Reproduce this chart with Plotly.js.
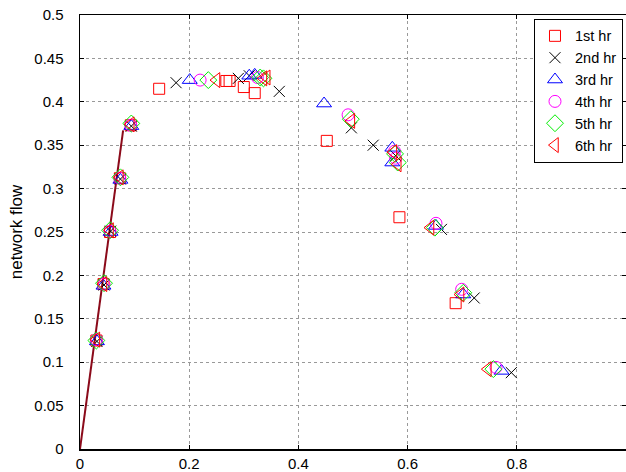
<!DOCTYPE html>
<html>
<head>
<meta charset="utf-8">
<script src="https://cdn.plot.ly/plotly-3.0.1.min.js"></script>
<style>html,body{margin:0;padding:0;background:#fff;}#chart{width:626px;height:472px;}</style>
</head>
<body>
<div id="chart"></div>
<script>
// Series names
const seriesNames = ["1st hr", "2nd hr", "3rd hr", "4th hr", "5th hr", "6th hr"];

// 1st hr (red squares)
const hr1X = [0.030, 0.043, 0.055, 0.073, 0.093, 0.145, 0.268, 0.274, 0.300, 0.320, 0.452, 0.585, 0.688];
const hr1Y = [0.125, 0.190, 0.250, 0.312, 0.373, 0.415, 0.424, 0.424, 0.417, 0.410, 0.355, 0.267, 0.168];

// 2nd hr (black x)
const hr2X = [0.031, 0.044, 0.056, 0.074, 0.094, 0.176, 0.290, 0.310, 0.365, 0.497, 0.537, 0.578, 0.662, 0.722, 0.790];
const hr2Y = [0.124, 0.189, 0.251, 0.311, 0.372, 0.422, 0.427, 0.430, 0.412, 0.370, 0.350, 0.338, 0.253, 0.174, 0.088];

// 3rd hr (blue triangles)
const hr3X = [0.031, 0.043, 0.056, 0.074, 0.094, 0.201, 0.310, 0.320, 0.447, 0.572, 0.572, 0.652, 0.702, 0.772];
const hr3Y = [0.124, 0.188, 0.250, 0.310, 0.372, 0.425, 0.430, 0.431, 0.398, 0.347, 0.330, 0.257, 0.178, 0.090];

// 4th hr (magenta circles)
const hr4X = [0.030, 0.044, 0.055, 0.073, 0.093, 0.220, 0.325, 0.491, 0.576, 0.578, 0.652, 0.699, 0.762];
const hr4Y = [0.126, 0.190, 0.251, 0.312, 0.373, 0.425, 0.428, 0.385, 0.343, 0.335, 0.260, 0.184, 0.094];

// 5th hr (green diamonds)
const hr5X = [0.030, 0.044, 0.055, 0.074, 0.094, 0.235, 0.330, 0.336, 0.496, 0.577, 0.582, 0.650, 0.702, 0.757];
const hr5Y = [0.125, 0.191, 0.252, 0.313, 0.375, 0.425, 0.428, 0.427, 0.380, 0.340, 0.330, 0.255, 0.180, 0.092];

// 6th hr (red left triangles)
const hr6X = [0.030, 0.043, 0.055, 0.073, 0.093, 0.250, 0.336, 0.342, 0.497, 0.574, 0.582, 0.642, 0.697, 0.747];
const hr6Y = [0.126, 0.190, 0.252, 0.313, 0.374, 0.425, 0.427, 0.428, 0.378, 0.342, 0.328, 0.255, 0.178, 0.092];

// Free-flow line
const lineX = [0, 0.079];
const lineY = [0, 0.367];

// Axis ticks
const xTickVals = [0, 0.2, 0.4, 0.6, 0.8];
const xTickText = ["0", "0.2", "0.4", "0.6", "0.8"];
const yTickVals = [0, 0.05, 0.1, 0.15, 0.2, 0.25, 0.3, 0.35, 0.4, 0.45, 0.5];
const yTickText = ["0", "0.05", "0.1", "0.15", "0.2", "0.25", "0.3", "0.35", "0.4", "0.45", "0.5"];

const styles = [
  {symbol: "square-open", color: "#ff0000", size: 11},
  {symbol: "x-thin-open", color: "#000000", size: 11},
  {symbol: "triangle-up-open", color: "#0000ff", size: 13},
  {symbol: "circle-open", color: "#ff00ff", size: 12},
  {symbol: "diamond-open", color: "#00ee00", size: 13},
  {symbol: "triangle-left-open", color: "#ff0000", size: 13}
];
const xs = [hr1X, hr2X, hr3X, hr4X, hr5X, hr6X];
const ys = [hr1Y, hr2Y, hr3Y, hr4Y, hr5Y, hr6Y];

const traces = [{
  x: lineX, y: lineY, mode: "lines", type: "scatter",
  line: {color: "#8b0a1a", width: 2}, showlegend: false, hoverinfo: "skip"
}];
seriesNames.forEach((n, i) => {
  traces.push({
    x: xs[i], y: ys[i], name: n, mode: "markers", type: "scatter",
    marker: {symbol: styles[i].symbol, size: styles[i].size, color: styles[i].color,
             line: {color: styles[i].color, width: 1}}
  });
});

const layout = {
  width: 626, height: 472,
  margin: {l: 80, r: 0, t: 15, b: 23},
  paper_bgcolor: "#ffffff", plot_bgcolor: "#ffffff",
  font: {family: "Liberation Sans, Arial, sans-serif", size: 15, color: "#000"},
  showlegend: true,
  legend: {x: 0.9945, y: 0.991, xanchor: "right", yanchor: "top", bordercolor: "#000", borderwidth: 1,
           bgcolor: "#ffffff", font: {size: 14.5}, itemwidth: 30},
  xaxis: {range: [0, 1], tickvals: xTickVals, ticktext: xTickText, showgrid: true,
          gridcolor: "#999", griddash: "dot", gridwidth: 1, zeroline: false,
          showline: true, linecolor: "#000", linewidth: 1.5, mirror: "ticks",
          ticks: "inside", ticklen: 4, tickcolor: "#000"},
  yaxis: {range: [0, 0.5], tickvals: yTickVals, ticktext: yTickText, showgrid: true,
          gridcolor: "#999", griddash: "dot", gridwidth: 1, zeroline: false,
          showline: true, linecolor: "#000", linewidth: 1.5, mirror: "ticks",
          ticks: "inside", ticklen: 4, tickcolor: "#000", ticklabelstandoff: 12,
          title: {text: "network flow", font: {size: 17}, standoff: 7}}
};

Plotly.newPlot("chart", traces, layout, {displayModeBar: false, staticPlot: true});
</script>
</body>
</html>
